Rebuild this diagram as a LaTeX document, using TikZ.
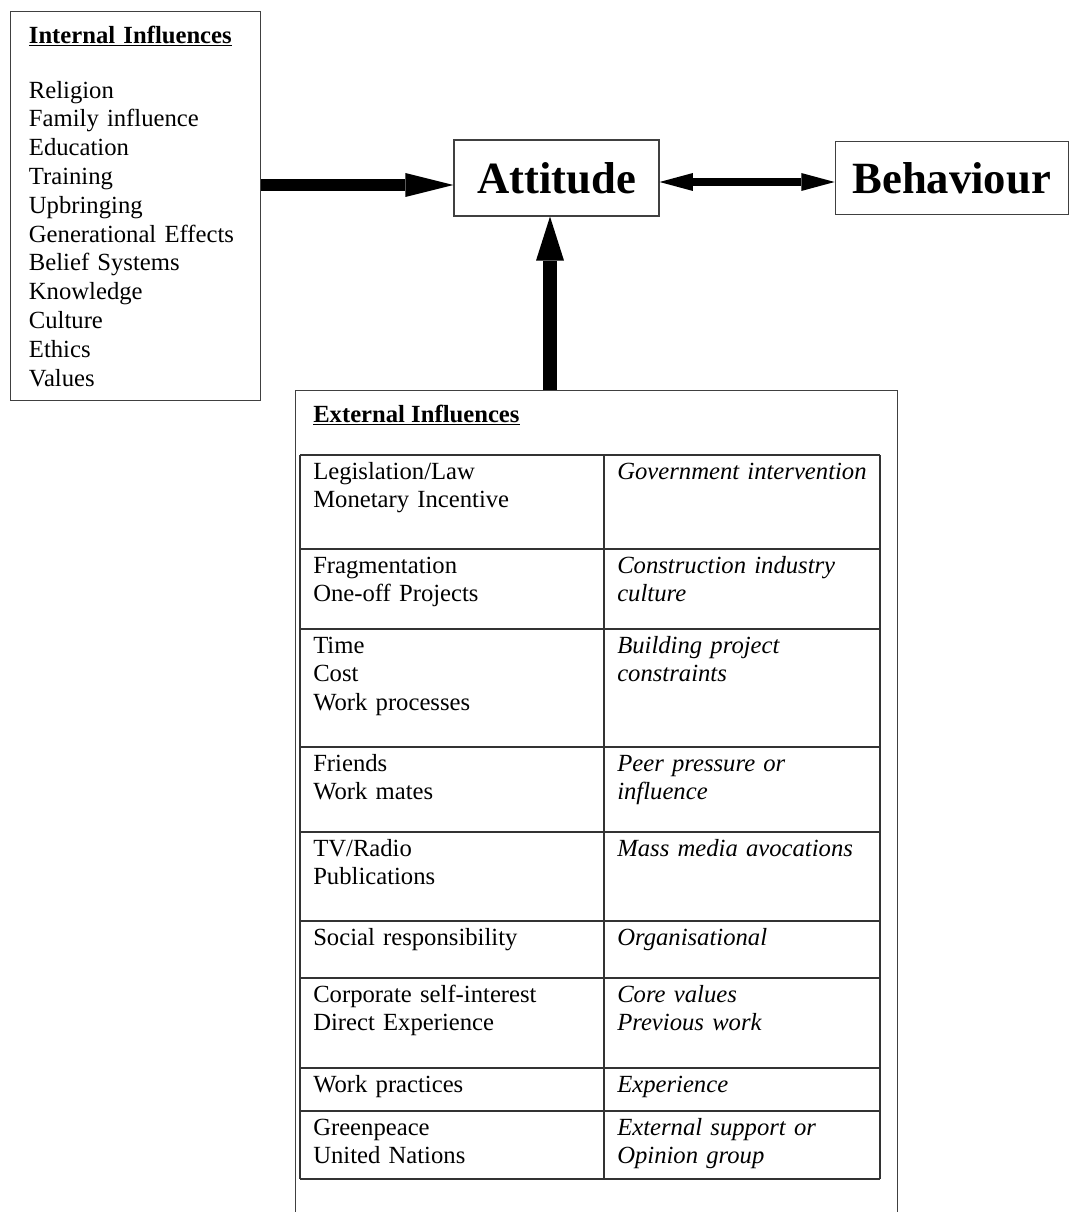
\documentclass[tikz,border=0pt]{standalone}
\usepackage{fontspec}
\setmainfont{Liberation Serif}
\usetikzlibrary{arrows.meta,positioning}

\begin{document}
\begin{tikzpicture}[
    x=0.75pt, y=-0.75pt,
    every node/.style={font=\fontsize{18.5}{21.6}\selectfont, inner sep=0pt},
    boxline/.style={draw=black!75, line width=0.9pt},
    listbox/.style={boxline, anchor=north west, align=left, text width=160pt, inner xsep=13.5pt, minimum width=187.5pt, minimum height=291.75pt},
    keybox/.style={boxline, font=\fontsize{33.5}{40}\selectfont\bfseries},
    cause/.style={anchor=base west, align=left, text width=210pt},
    effect/.style={anchor=base west, align=left, text width=195pt, font=\fontsize{18.5}{21.6}\selectfont\itshape},
    tableline/.style={draw=black!80, line width=1pt},
    push/.style={-{Triangle[length=36pt, width=18pt, line width=0pt]}, line width=9pt},
    link/.style={{Triangle[length=25pt, width=13.5pt, line width=0pt]}-{Triangle[length=25pt, width=13.5pt, line width=0pt]}, line width=5.5pt},
    rise/.style={-{Triangle[length=33pt, width=21pt, line width=0pt]}, line width=10.5pt}
]
\useasboundingbox (0,0) rectangle (1068,1212);
\node[listbox] (internal) at (10,11) {\textbf{\underline{Internal Influences}}\\[19.65pt]
    Religion\\Family influence\\Education\\Training\\Upbringing\\Generational Effects\\Belief Systems\\Knowledge\\Culture\\Ethics\\Values};
\node[keybox, minimum width=153.75pt, minimum height=57pt] (attitude) at (556.5,178) {Attitude};
\node[keybox, minimum width=174.75pt, minimum height=54.75pt, right=131.25pt of attitude] (behaviour) {Behaviour};
\node[boxline, anchor=north west, minimum width=451.5pt, minimum height=621pt] (external) at (295,390) {};
\node[anchor=base west, font=\fontsize{18.5}{21.6}\selectfont\bfseries] (exthead) at (313,422) {\underline{External Influences}};
\foreach \ry in {455,549,629,747,832,921,978,1068,1111,1179}
    \draw[tableline] (300,\ry) -- (880,\ry);
\foreach \rx in {300,604,880}
    \draw[tableline] (\rx,455) -- (\rx,1179);
\node[cause] (law) at (313,479) {Legislation/Law\\Monetary Incentive};
\node[effect] (government) at (617,479) {Government intervention};
\node[cause] (fragment) at (313,573) {Fragmentation\\One-off Projects};
\node[effect] (industry) at (617,573) {Construction industry\\culture};
\node[cause] (time) at (313,653) {Time\\Cost\\Work processes};
\node[effect] (project) at (617,653) {Building project\\constraints};
\node[cause] (friends) at (313,771) {Friends\\Work mates};
\node[effect] (peer) at (617,771) {Peer pressure or\\influence};
\node[cause] (media) at (313,856) {TV/Radio\\Publications};
\node[effect] (mass) at (617,856) {Mass media avocations};
\node[cause] (social) at (313,945) {Social responsibility};
\node[effect] (organisation) at (617,945) {Organisational};
\node[cause] (corporate) at (313,1002) {Corporate self-interest\\Direct Experience};
\node[effect] (core) at (617,1002) {Core values\\Previous work};
\node[cause] (practice) at (313,1092) {Work practices};
\node[effect] (experience) at (617,1092) {Experience};
\node[cause] (green) at (313,1135) {Greenpeace\\United Nations};
\node[effect] (support) at (617,1135) {External support or\\Opinion group};
\draw[push] (internal.east |- 0,185) -- (attitude.west |- 0,185);
\draw[link] (attitude.east |- 0,182) -- (behaviour.west |- 0,182);
\draw[rise] (external.north -| 550,0) -- (attitude.south -| 550,0);
\end{tikzpicture}
\end{document}
